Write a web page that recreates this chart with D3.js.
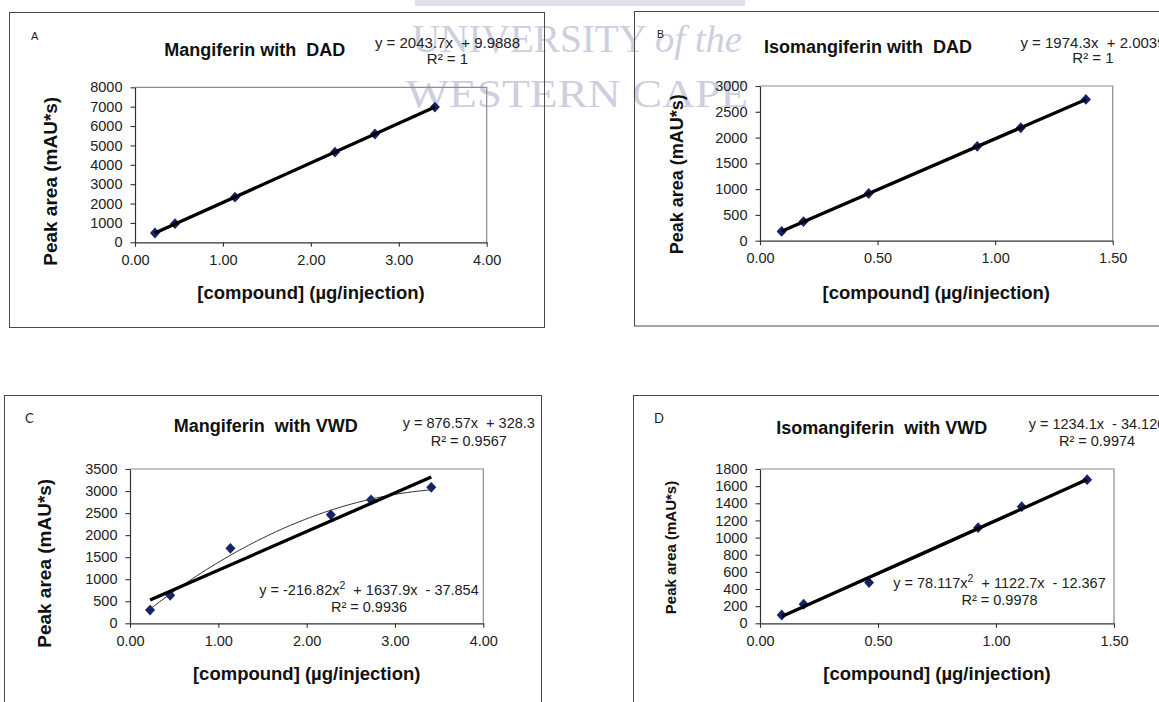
<!DOCTYPE html>
<html><head><meta charset="utf-8">
<script src="https://cdn.jsdelivr.net/npm/d3@7"></script>
<style>
html,body{margin:0;padding:0;background:#fff;}
svg{display:block;font-family:"Liberation Sans",Arial,sans-serif;}
text{white-space:pre;}
</style></head><body>
<svg id="chart" width="1159" height="702"></svg>
<script>
// ---------- data ----------
const panelLetters = ["A", "B", "C", "D"];
const panelTitles = ["Mangiferin with  DAD", "Isomangiferin with  DAD", "Mangiferin  with VWD", "Isomangiferin  with VWD"];
const concMangiferin = [0.227, 0.455, 1.137, 2.274, 2.729, 3.411];
const concIsomangiferin = [0.092, 0.185, 0.462, 0.924, 1.109, 1.386];
const areaMangiferinDAD = [480, 960, 2330, 4650, 5590, 6980];
const areaIsomangiferinDAD = [180, 370, 915, 1830, 2190, 2740];
const areaMangiferinVWD = [300, 635, 1700, 2460, 2800, 3085];
const areaIsomangiferinVWD = [97, 222, 475, 1115, 1360, 1675];
const linearFits = [[2043.7, 9.9888], [1974.3, 2.0039], [876.57, 328.3], [1234.1, -34.120]];
const quadFits = [null, null, [-216.82, 1637.9, -37.854], [78.117, 1122.7, -12.367]];
const linearEqText = ["y = 2043.7x  + 9.9888", "y = 1974.3x  + 2.0039", "y = 876.57x  + 328.3", "y = 1234.1x  - 34.120"];
const linearR2Text = ["R\u00b2 = 1", "R\u00b2 = 1", "R\u00b2 = 0.9567", "R\u00b2 = 0.9974"];
const quadEqParts = [null, null, ["y = -216.82x", "2", "  + 1637.9x  - 37.854"], ["y = 78.117x", "2", "  + 1122.7x  - 12.367"]];
const quadR2Text = [null, null, "R\u00b2 = 0.9936", "R\u00b2 = 0.9978"];
const xTicksMangiferin = [0, 1, 2, 3, 4];
const xTicksIsomangiferin = [0, 0.5, 1, 1.5];
const yTicksA = [0, 1000, 2000, 3000, 4000, 5000, 6000, 7000, 8000];
const yTicksB = [0, 500, 1000, 1500, 2000, 2500, 3000];
const yTicksC = [0, 500, 1000, 1500, 2000, 2500, 3000, 3500];
const yTicksD = [0, 200, 400, 600, 800, 1000, 1200, 1400, 1600, 1800];
const yAxisTitle = "Peak area (mAU*s)";
const xAxisTitle = "[compound] (\u00b5g/injection)";
const watermarkLine1 = "UNIVERSITY";
const watermarkLine1b = "of the";
const watermarkLine2 = "WESTERN CAPE";

// ---------- panel setup ----------
const panels = [
  { x: concMangiferin, y: areaMangiferinDAD, xTicks: xTicksMangiferin, yTicks: yTicksA, xMax: 4, yMax: 8000 },
  { x: concIsomangiferin, y: areaIsomangiferinDAD, xTicks: xTicksIsomangiferin, yTicks: yTicksB, xMax: 1.5, yMax: 3000 },
  { x: concMangiferin, y: areaMangiferinVWD, xTicks: xTicksMangiferin, yTicks: yTicksC, xMax: 4, yMax: 3500 },
  { x: concIsomangiferin, y: areaIsomangiferinVWD, xTicks: xTicksIsomangiferin, yTicks: yTicksD, xMax: 1.5, yMax: 1800 }
];

const layout = [
  { frame: [9.5, 12.5, 535, 315], plot: { l: 135, r: 486.7, t: 87.3, b: 242.3 },
    letter: { x: 31, y: 39.5, font: "Liberation Sans", size: 11 }, title: { x: 254.7, y: 56 },
    eq: { x: 447.5, y1: 47.7, y2: 64.3, size: 15 }, ylab: { x: 56.7, y: 181.3, size: 19, weight: "bold" },
    xlab: { x: 311, y: 299 } },
  { frame: [634.5, 11.5, 600, 314.5], plot: { l: 760, r: 1112.7, t: 86, b: 240.7 },
    letter: { x: 657, y: 38, font: "Liberation Sans", size: 10.5 }, title: { x: 868, y: 53.3 },
    eq: { x: 1093, y1: 47.5, y2: 63.3, size: 15 }, ylab: { x: 683, y: 174.2, size: 18, weight: "bold" },
    xlab: { x: 936.3, y: 299 } },
  { frame: [4.5, 395.5, 537, 400], plot: { l: 130, r: 483.3, t: 469, b: 623.3 },
    letter: { x: 25, y: 422.7, font: "Lato", size: 13 }, title: { x: 265.8, y: 432.3 },
    eq: { x: 468.8, y1: 428.3, y2: 445.7, size: 14.5 }, qeq: { x: 369, y1: 595, y2: 611.7 },
    ylab: { x: 51, y: 563.3, size: 19, weight: "bold" }, xlab: { x: 306.7, y: 680 } },
  { frame: [633.5, 395.5, 600, 400], plot: { l: 760, r: 1114, t: 469, b: 623.3 },
    letter: { x: 654, y: 422.7, font: "Lato", size: 13 }, title: { x: 881.8, y: 434 },
    eq: { x: 1097, y1: 429, y2: 445.7, size: 14.5 }, qeq: { x: 999.5, y1: 587.7, y2: 605 },
    ylab: { x: 676, y: 547.5, size: 15, weight: "bold" }, xlab: { x: 937, y: 680 } }
];

const svg = d3.select("#chart");
svg.append("rect").attr("width", 1159).attr("height", 702).attr("fill", "#fff");

// ---------- watermark (behind the charts) ----------
svg.append("rect").attr("x", 415).attr("y", 0).attr("width", 330).attr("height", 6).attr("fill", "#e0e1ea");
const wm = svg.append("g").style("font-family", "'Liberation Serif', 'Times New Roman', serif").attr("fill", "#cdcfdf");
wm.append("text").attr("x", 412).attr("y", 51.5).style("font-size", "40px")
  .attr("textLength", 235).attr("lengthAdjust", "spacingAndGlyphs").text(watermarkLine1);
wm.append("text").attr("x", 655).attr("y", 51.5).style("font-size", "38px").style("font-style", "italic")
  .attr("textLength", 87).attr("lengthAdjust", "spacingAndGlyphs").text(watermarkLine1b);
wm.append("text").attr("x", 406).attr("y", 106.5).style("font-size", "41px")
  .attr("textLength", 342).attr("lengthAdjust", "spacingAndGlyphs").text(watermarkLine2);

const diamond = "M0,-5.4L5,0L0,5.4L-5,0Z";

panels.forEach((p, i) => {
  const L = layout[i];
  const g = svg.append("g");
  // outer frame
  g.append("rect").attr("x", L.frame[0]).attr("y", L.frame[1]).attr("width", L.frame[2]).attr("height", L.frame[3])
    .attr("fill", "none").attr("stroke", "#4a4a4a").attr("stroke-width", 1);

  const x = d3.scaleLinear().domain([0, p.xMax]).range([L.plot.l, L.plot.r]);
  const y = d3.scaleLinear().domain([0, p.yMax]).range([L.plot.b, L.plot.t]);

  // plot area border (top/right grey)
  g.append("path")
    .attr("d", `M${x(0)},${y(p.yMax)}H${x(p.xMax)}V${y(0)}`)
    .attr("fill", "none").attr("stroke", "#8c8c8c").attr("stroke-width", 1.2);

  // axes
  const yAxis = d3.axisLeft(y).tickValues(p.yTicks).tickFormat(d3.format("d")).tickSizeInner(4.5).tickSizeOuter(0).tickPadding(8);
  const xAxis = d3.axisBottom(x).tickValues(p.xTicks).tickFormat(d3.format(".2f")).tickSizeInner(4.5).tickSizeOuter(0).tickPadding(8);
  const ya = g.append("g").attr("transform", `translate(${x(0)},0)`).call(yAxis);
  const xa = g.append("g").attr("transform", `translate(0,${y(0)})`).call(xAxis);
  [ya, xa].forEach(a => {
    a.select(".domain").attr("stroke", "#333").attr("stroke-width", 1.2);
    a.selectAll(".tick line").attr("stroke", "#333").attr("stroke-width", 1.1);
    a.selectAll(".tick text").attr("fill", "#222").style("font-size", "14.5px")
      .style("font-family", "'Liberation Sans', Arial, sans-serif");
  });

  // markers
  const pts = p.x.map((d, k) => [d, p.y[k]]);
  g.append("g").selectAll("path").data(pts).join("path")
    .attr("d", diamond)
    .attr("transform", d => `translate(${x(d[0])},${y(d[1])})`)
    .attr("fill", "#16236b");

  const xMin = d3.min(p.x), xMaxD = d3.max(p.x);
  // polynomial trendline
  const q = quadFits[i];
  if (q) {
    const xs = d3.range(0, 61).map(k => xMin + (xMaxD - xMin) * k / 60);
    const qline = d3.line().x(d => x(d)).y(d => y(q[0] * d * d + q[1] * d + q[2]));
    g.append("path").attr("d", qline(xs)).attr("fill", "none").attr("stroke", "#333").attr("stroke-width", 1);
  }
  // linear trendline
  const lf = linearFits[i];
  const lline = d3.line().x(d => x(d)).y(d => y(lf[0] * d + lf[1]));
  g.append("path").attr("d", lline([xMin, xMaxD])).attr("fill", "none").attr("stroke", "#000").attr("stroke-width", 3.3);

  // texts
  g.append("text").attr("x", L.letter.x).attr("y", L.letter.y).text(panelLetters[i])
    .style("font-family", `'${L.letter.font}', sans-serif`).style("font-size", L.letter.size + "px").attr("fill", "#222");
  g.append("text").attr("x", L.title.x).attr("y", L.title.y).attr("text-anchor", "middle")
    .style("font-size", "18px").style("font-weight", "bold").attr("fill", "#111").text(panelTitles[i]);
  g.append("text").attr("x", L.eq.x).attr("y", L.eq.y1).attr("text-anchor", "middle")
    .style("font-size", L.eq.size + "px").attr("fill", "#222").text(linearEqText[i]);
  g.append("text").attr("x", L.eq.x).attr("y", L.eq.y2).attr("text-anchor", "middle")
    .style("font-size", L.eq.size + "px").attr("fill", "#222").text(linearR2Text[i]);
  if (quadEqParts[i]) {
    const t = g.append("text").attr("x", L.qeq.x).attr("y", L.qeq.y1).attr("text-anchor", "middle")
      .style("font-size", L.eq.size + "px").attr("fill", "#222");
    t.append("tspan").text(quadEqParts[i][0]);
    t.append("tspan").attr("dy", -6).style("font-size", "10.5px").text(quadEqParts[i][1]);
    t.append("tspan").attr("dy", 6).text(quadEqParts[i][2]);
    g.append("text").attr("x", L.qeq.x).attr("y", L.qeq.y2).attr("text-anchor", "middle")
      .style("font-size", L.eq.size + "px").attr("fill", "#222").text(quadR2Text[i]);
  }
  g.append("text").attr("transform", `translate(${L.ylab.x},${L.ylab.y}) rotate(-90)`).attr("text-anchor", "middle")
    .style("font-size", L.ylab.size + "px").style("font-weight", L.ylab.weight).attr("fill", "#111").text(yAxisTitle);
  g.append("text").attr("x", L.xlab.x).attr("y", L.xlab.y).attr("text-anchor", "middle")
    .style("font-size", "18.5px").style("font-weight", "bold").attr("fill", "#111").text(xAxisTitle);
});
</script>
</body></html>
